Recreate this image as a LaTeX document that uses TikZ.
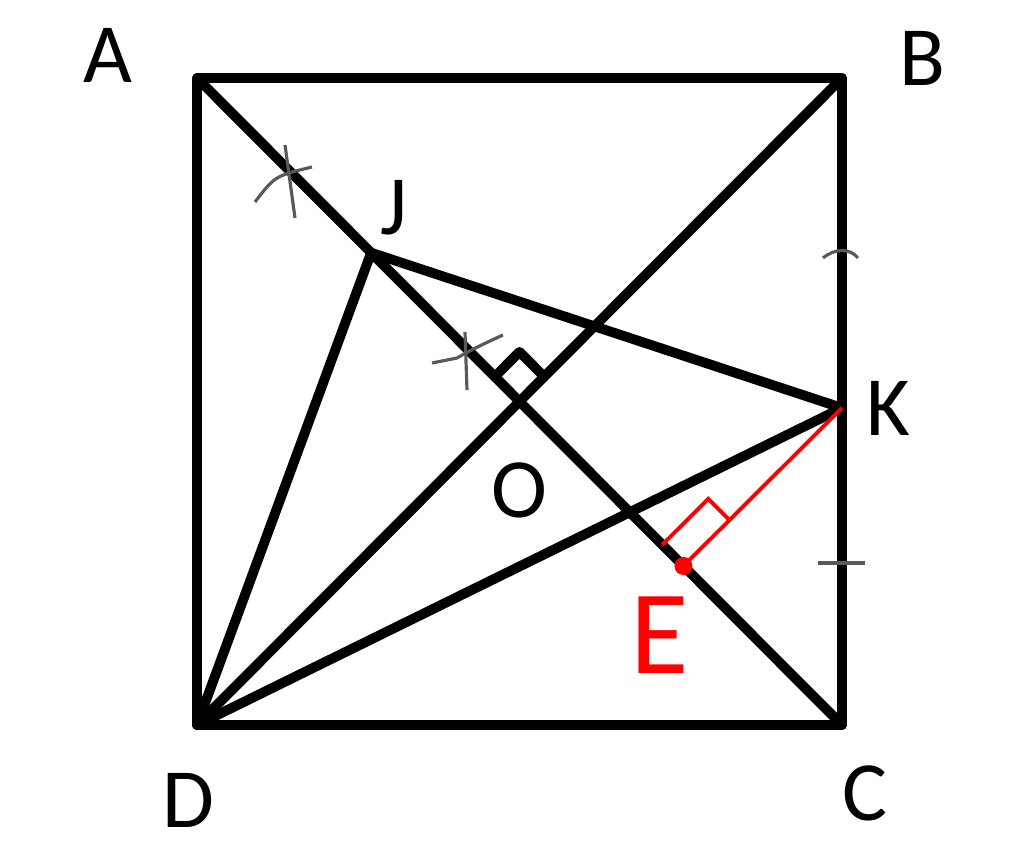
\documentclass[tikz,border=0pt]{standalone}
\usepackage{fontspec}
\setmainfont{Carlito}
\usetikzlibrary{calc}

\begin{document}
\begin{tikzpicture}[
	thickline/.style={line width=2.8pt, line cap=round, line join=round},
	tickmark/.style={black!65, line width=0.9pt},
	lbl/.style={font=\fontsize{24}{28}\selectfont}]
	
	\useasboundingbox (0,0) rectangle (10.24,8.46);
	
	% Square ABCD
	\coordinate (A) at (1.97,7.68);
	\coordinate (B) at (8.42,7.68);
	\coordinate (C) at (8.42,1.21);
	\coordinate (D) at (1.97,1.21);
	
	\coordinate (O) at ($(A)!0.5!(C)$);
	\coordinate (J) at ($(A)!0.27!(C)$);
	\coordinate (K) at ($(B)!0.51!(C)$);
	\coordinate (E) at ($(A)!(K)!(C)$);
	
	\draw[thickline] (A) -- (B) -- (C) -- (D) -- cycle;
	\draw[thickline] (A) -- (C);
	\draw[thickline] (B) -- (D);
	\draw[thickline] (D) -- (J) -- (K) -- (D);
	
	% right angle at O
	\coordinate (Oa) at ($(O)!0.35cm!(A)$);
	\coordinate (Ob) at ($(O)!0.35cm!(B)$);
	\draw[thickline] (Oa) -- ($(Oa)+(Ob)-(O)$) -- (Ob);
	
	% compass marks
	\draw[tickmark] (2.55,6.44) .. controls (2.75,6.70) .. (3.12,6.79);
	\draw[tickmark] (2.85,7.01) -- (2.95,6.28);
	\draw[tickmark] (4.32,4.83) -- (4.57,4.88) .. controls (4.75,4.98) .. (5.03,5.11);
	\draw[tickmark] (4.65,5.14) -- (4.67,4.56);
	\draw[tickmark] (8.23,5.88) .. controls (8.35,5.98) and (8.50,5.98) .. (8.58,5.88);
	\draw[tickmark] (8.18,2.83) -- (8.65,2.83);
	
	% perpendicular KE
	\draw[red, line width=1.1pt] (K) -- (E);
	\coordinate (Ea) at ($(E)!0.3cm!(A)$);
	\coordinate (Ek) at ($(E)!0.65cm!(K)$);
	\draw[red, line width=1.1pt] (Ea) -- ($(Ea)+(Ek)-(E)$) -- (Ek);
	\fill[red] (E) circle[radius=0.09];
	
	% labels
	\node[lbl] (lA) at (1.08,7.91) {A};
	\node[lbl] (lB) at (9.22,7.88) {B};
	\node[lbl] (lC) at (8.65,0.53) {C};
	\node[lbl] (lD) at (1.88,0.46) {D};
	\node[lbl] (lJ) at (3.94,6.38) {J};
	\node[lbl] (lK) at (8.88,4.38) {K};
	\node[lbl] (lO) at (5.19,3.56) {O};
	\node[red, font=\fontsize{34}{40}\selectfont] (lE) at (6.60,2.11) {E};
	
\end{tikzpicture}
\end{document}
